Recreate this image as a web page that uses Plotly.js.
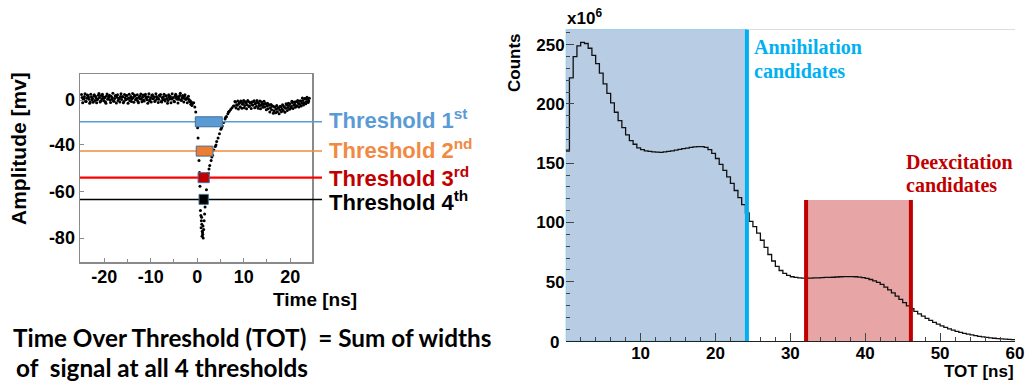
<!DOCTYPE html>
<html>
<head>
<meta charset="utf-8">
<script src="https://cdn.plot.ly/plotly-3.0.1.min.js"></script>
<style>
html,body{margin:0;padding:0;background:#fff;}
#chart{width:1035px;height:385px;}
</style>
</head>
<body>
<div id="chart"></div>
<script>
// ---------- DATA ----------
// Left panel: digitised detector signal (time in ns, amplitude in mV)
const sigBaseT = [
-24.75,-24.5,-24.25,-24.0,-23.75,-23.5,-23.25,-23.0,
-22.75,-22.5,-22.25,-22.0,-21.75,-21.5,-21.25,-21.0,
-20.75,-20.5,-20.25,-20.0,-19.75,-19.5,-19.25,-19.0,
-18.75,-18.5,-18.25,-18.0,-17.75,-17.5,-17.25,-17.0,
-16.75,-16.5,-16.25,-16.0,-15.75,-15.5,-15.25,-15.0,
-14.75,-14.5,-14.25,-14.0,-13.75,-13.5,-13.25,-13.0,
-12.75,-12.5,-12.25,-12.0,-11.75,-11.5,-11.25,-11.0,
-10.75,-10.5,-10.25,-10.0,-9.75,-9.5,-9.25,-9.0,
-8.75,-8.5,-8.25,-8.0,-7.75,-7.5,-7.25,-7.0,
-6.75,-6.5,-6.25,-6.0,-5.75,-5.5,-5.25,-5.0,
-4.75,-4.5,-4.25,-4.0,-3.75,-3.5,-3.25,-3.0,
-2.75,-2.5,-2.25,-2.0,-1.75,-1.5,-1.25,-1.0];
const sigBaseV = [
1.5,0.2,2.1,-0.8,1.0,2.6,0.4,-1.2,
1.8,0.9,2.3,-0.3,1.2,0.1,2.8,1.5,
-0.6,0.7,2.0,1.1,-1.0,2.4,0.5,1.7,
0.0,2.2,1.3,-0.5,0.9,2.7,1.6,-0.2,
1.0,2.1,0.3,1.9,-0.9,1.4,2.5,0.6,
1.2,-0.4,2.0,0.8,1.5,2.9,0.1,1.1,
-0.7,1.8,2.3,0.4,1.6,-0.1,2.4,1.0,
0.2,1.9,-0.6,1.3,2.6,0.7,1.5,-0.3,
2.0,1.2,0.5,2.2,-0.8,1.4,1.9,0.3,
2.5,0.9,-0.2,1.7,2.1,0.6,1.3,-0.5,
2.3,1.0,0.4,1.8,2.6,0.0,1.5,1.1,
2.0,0.5,1.2,0.8,0.3,-0.4,-1.2,-2.0];
const sigBase2T = [
-24.875,-24.625,-24.375,-24.125,-23.875,-23.625,-23.375,-23.125,
-22.875,-22.625,-22.375,-22.125,-21.875,-21.625,-21.375,-21.125,
-20.875,-20.625,-20.375,-20.125,-19.875,-19.625,-19.375,-19.125,
-18.875,-18.625,-18.375,-18.125,-17.875,-17.625,-17.375,-17.125,
-16.875,-16.625,-16.375,-16.125,-15.875,-15.625,-15.375,-15.125,
-14.875,-14.625,-14.375,-14.125,-13.875,-13.625,-13.375,-13.125,
-12.875,-12.625,-12.375,-12.125,-11.875,-11.625,-11.375,-11.125,
-10.875,-10.625,-10.375,-10.125,-9.875,-9.625,-9.375,-9.125,
-8.875,-8.625,-8.375,-8.125,-7.875,-7.625,-7.375,-7.125,
-6.875,-6.625,-6.375,-6.125,-5.875,-5.625,-5.375,-5.125,
-4.875,-4.625,-4.375,-4.125,-3.875,-3.625,-3.375,-3.125,
-2.875,-2.625,-2.375,-2.125,-1.875,-1.625,-1.375,-1.125];
const sigBase2V = [
3.2,-1.5,0.8,3.6,-0.9,2.9,1.8,-1.8,
3.4,0.2,-1.3,3.0,2.2,-1.6,0.6,3.8,
-1.1,2.7,3.3,-0.4,1.6,-1.9,3.5,0.9,
2.8,-1.4,0.4,3.9,-0.7,2.5,-1.7,3.1,
0.7,-1.2,3.7,1.9,-1.5,3.2,0.1,2.6,
-1.8,3.4,1.0,-0.9,3.8,-1.3,2.3,0.5,
3.0,-1.6,0.9,3.5,-1.0,2.9,-0.5,3.3,
1.7,-1.9,3.6,0.3,-1.2,3.1,2.0,-0.8,
3.7,0.6,-1.4,2.8,3.2,-1.1,0.2,3.4,
-0.6,2.4,-1.8,3.0,0.8,-1.5,3.6,1.3,
-1.0,3.3,2.1,-1.7,0.5,3.9,-0.3,2.7,
-1.2,3.0,0.4,-1.6,2.2,-0.9,-2.5,-3.2];
const sigPulseT = [-0.75,-0.5,-0.3,-0.1,0.1,0.2,0.3,0.4,0.5,0.6,0.65,0.7,0.8,0.9,1.0,0.85,1.1,1.2,1.3,1.15,
  1.4,1.5,1.6,1.7,1.8,2.0,2.2,2.4,2.7,3.0,3.3,3.6,3.9,4.2,4.5,4.8,5.1,5.4,5.7,6.0,6.3,6.6,6.9,7.2,7.5,7.8,
  0.95,1.05,1.25,2.55,3.15,4.05,5.25,6.15,6.75];
const sigPulseV = [-1.5,-4,-7,-11,-16,-22,-28,-35,-42,-50,-58,-64,-67,-70,-72,-74,-76,-78,-80,-77,
  -75,-70,-66,-62,-57,-52,-47,-42.5,-38,-35,-32,-29,-27,-24,-22,-19.5,-17,-15,-13,-11,-9.5,-8,-6.5,-5.5,-4.5,-3.5,
  -68,-79,-73,-40,-33,-26,-16,-10,-7];
const sigTailT = [
8.0,8.25,8.5,8.75,9.0,9.25,9.5,9.75,
10.0,10.25,10.5,10.75,11.0,11.25,11.5,11.75,
12.0,12.25,12.5,12.75,13.0,13.25,13.5,13.75,
14.0,14.25,14.5,14.75,15.0,15.25,15.5,15.75,
16.0,16.25,16.5,16.75,17.0,17.25,17.5,17.75,
18.0,18.25,18.5,18.75,19.0,19.25,19.5,19.75,
20.0,20.25,20.5,20.75,21.0,21.25,21.5,21.75,
22.0,22.25,22.5,22.75,23.0,23.25,23.5,23.75,24.0];
const sigTailV = [
-3.5,-1.2,-2.8,-0.5,-2.0,-3.9,-1.0,-2.5,
-0.2,-3.1,-1.6,-2.7,-0.8,-3.5,-1.9,-1.1,
-2.9,-0.4,-2.2,-3.6,-1.3,-2.0,-0.6,-3.0,
-1.8,-2.6,-4.0,-2.3,-3.4,-5.0,-2.8,-4.4,
-5.6,-3.5,-6.2,-4.1,-5.3,-6.8,-4.6,-5.8,
-3.9,-5.2,-6.0,-4.0,-4.8,-2.9,-4.3,-3.1,
-2.2,-3.8,-1.4,-3.0,-2.5,-1.0,-3.3,-1.7,
-2.4,-0.6,-1.9,-0.2,-1.5,0.8,-0.9,0.4,-0.5];
const sigTail2T = [
8.125,8.375,8.625,8.875,9.125,9.375,9.625,9.875,
10.125,10.375,10.625,10.875,11.125,11.375,11.625,11.875,
12.125,12.375,12.625,12.875,13.125,13.375,13.625,13.875,
14.125,14.375,14.625,14.875,15.125,15.375,15.625,15.875,
16.125,16.375,16.625,16.875,17.125,17.375,17.625,17.875,
18.125,18.375,18.625,18.875,19.125,19.375,19.625,19.875,
20.125,20.375,20.625,20.875,21.125,21.375,21.625,21.875,
22.125,22.375,22.625,22.875,23.125,23.375,23.625,23.875,24.125];
const sigTail2V = [
-0.8,-4.6,-3.0,-5.2,-1.5,-0.6,-4.8,-1.9,
-4.4,-1.0,-5.0,-0.3,-3.8,-1.4,-4.9,-2.9,
-0.9,-4.5,-1.6,-0.2,-4.7,-3.3,-5.1,-1.2,
-4.2,-0.7,-2.0,-5.6,-1.9,-3.0,-6.9,-2.6,
-3.4,-7.6,-4.0,-7.3,-3.1,-4.4,-7.9,-3.6,
-6.8,-2.8,-3.7,-7.1,-2.2,-6.0,-1.8,-5.4,
-4.6,-0.7,-4.9,-1.2,-4.2,-3.6,-0.3,-4.1,
-0.5,-3.5,1.2,-2.9,0.9,-2.2,1.6,-1.4,1.0];

// Threshold levels (mV) and time-over-threshold windows (ns)
const thrNames  = ['1', '2', '3', '4'];
const thrSuffix = ['st', 'nd', 'rd', 'th'];
const thrLevel  = [-12.6, -29.6, -45.0, -57.6];
const totStart  = [-0.4, -0.2, 0.2, 0.4];
const totEnd    = [5.4, 3.4, 2.6, 2.4];
const ampTickVals = [0, -26, -53.3, -80];
const ampTickText = ['0', '-40', '-60', '-80'];
const timeTicks = [-20, -10, 0, 10, 20];

// Right panel: TOT histogram (x10^6 counts), 0.5 ns bins from 0 to 60 ns
const totBinStart = 0;
const totBinWidth = 0.5;
const totCounts = [
161,222,240,249,252,251,247,241,234,226,
217,209,201,193,186,180,174,169,166,163,
161.5,160.5,160,159.5,159.3,159.2,159.5,160,160.5,161,
161.7,162.3,162.8,163.3,163.8,164,164,163.4,161.5,158.3,
154,149,144,138.5,133,127,121,115,108,101,
96.5,91,85,79,73,67.5,63,59.5,57,55.3,
54.2,53.6,53.2,53,53,53.1,53.2,53.3,53.5,53.6,
53.7,53.8,54,54.2,54.3,54.4,54.3,54.2,53.9,53.4,
52.8,51.9,50.8,49.4,47.7,45.5,43.2,40.6,37.9,35.2,
32.4,29.7,27.2,25,22.9,21,19.1,17.4,15.7,14.2,
12.8,11.5,10.3,9.2,8.2,7.3,6.5,5.8,5.1,4.5,
3.9,3.4,3,2.6,2.3,2,1.8,1.5,1.3,1.1];
const annihilationCut = 24.2;              // ns
const deexcitationWindow = [32.1, 46.1];   // ns
const deexcitationTop = 119;               // x10^6
const totTickVals = [0, 10, 20, 30, 40, 50, 60];
const totTickText = ['', '10', '20', '30', '40', '50', '60'];
const countTickVals = [50, 100, 150, 200, 250];
const originLabel = '0';

// ---------- BUILD ----------
const W = 1035, H = 385;
const px = v => v / W;
const py = v => 1 - v / H;

const sigT = sigBaseT.concat(sigBase2T, sigPulseT, sigTailT, sigTail2T);
const sigV = sigBaseV.concat(sigBase2V, sigPulseV, sigTailV, sigTail2V);

const edges = totCounts.map((_, i) => totBinStart + i * totBinWidth);
const histX = edges.concat([totBinStart + totCounts.length * totBinWidth]);
const histY = totCounts.concat([totCounts[totCounts.length - 1]]);

const thrLineColor = ['#5B9BD5', '#F08A42', '#FF0000', '#000000'];
const thrLineWidth = [1.5, 1.5, 2.2, 1.5];
const boxFill = ['#5B9BD5', '#ED7D31', '#C00000', '#000000'];
const thrTextColor = ['#5B9BD5', '#F08A42', '#C00000', '#000000'];
const thrTextY = [119, 149, 177, 201];

const SANS = 'Liberation Sans, Arial, sans-serif';
const SERIF = 'Liberation Serif, Times New Roman, serif';

const traces = [
  {
    type: 'scatter', mode: 'markers', x: sigT, y: sigV,
    xaxis: 'x', yaxis: 'y',
    marker: {color: '#000', size: 3},
    hoverinfo: 'skip', showlegend: false
  },
  {
    type: 'scatter', mode: 'lines', x: histX, y: histY,
    xaxis: 'x2', yaxis: 'y2',
    line: {color: '#111', width: 1.3, shape: 'hv'},
    hoverinfo: 'skip', showlegend: false
  }
];

const shapes = [];
thrLevel.forEach((lv, i) => {
  shapes.push({type: 'line', xref: 'paper', yref: 'y', x0: px(80), x1: px(322), y0: lv, y1: lv,
    line: {color: thrLineColor[i], width: thrLineWidth[i]}, layer: 'above'});
});
thrLevel.forEach((lv, i) => {
  shapes.push({type: 'rect', xref: 'x', yref: 'y', x0: totStart[i], x1: totEnd[i], y0: lv - 2.9, y1: lv + 2.9,
    fillcolor: boxFill[i], line: {color: '#41719C', width: 1}, layer: 'above'});
});
shapes.push({type: 'rect', xref: 'x2', yref: 'y2', x0: 0, x1: annihilationCut, y0: 0, y1: 263,
  fillcolor: '#B8CCE4', line: {color: '#86CFEC', width: 1.5}, layer: 'below'});
shapes.push({type: 'line', xref: 'x2', yref: 'y2', x0: annihilationCut, x1: annihilationCut, y0: 0, y1: 263,
  line: {color: '#00B0F0', width: 4}, layer: 'above'});
shapes.push({type: 'line', xref: 'x2', yref: 'y2', x0: annihilationCut, x1: 60, y0: 263, y1: 263,
  line: {color: '#c8c8c8', width: 1}, layer: 'above'});
shapes.push({type: 'rect', xref: 'x2', yref: 'y2', x0: deexcitationWindow[0], x1: deexcitationWindow[1], y0: 0, y1: deexcitationTop,
  fillcolor: '#E7A5A5', line: {width: 0}, layer: 'below'});
deexcitationWindow.forEach(xv => {
  shapes.push({type: 'line', xref: 'x2', yref: 'y2', x0: xv, x1: xv, y0: 0, y1: deexcitationTop,
    line: {color: '#C00000', width: 4}, layer: 'above'});
});

const ann = [];
const A = (text, x, y, opts) => Object.assign({text, x: px(x), y: py(y), xref: 'paper', yref: 'paper',
  showarrow: false, xanchor: 'left', yanchor: 'middle'}, opts);

thrNames.forEach((n, i) => {
  ann.push(A('Threshold ' + n + '<sup>' + thrSuffix[i] + '</sup>', 327, thrTextY[i],
    {font: {family: SANS, size: 22, weight: 'bold', color: thrTextColor[i]}}));
});
ann.push(A('Amplitude [mv]', 18, 149, {xanchor: 'center', textangle: -90,
  font: {family: SANS, size: 21, weight: 'bold', color: '#000'}}));
ann.push(A('Time [ns]', 315, 299, {xanchor: 'center',
  font: {family: SANS, size: 19, weight: 'bold', color: '#000'}}));
ann.push(A('Time Over Threshold (TOT)\u00a0 = Sum of widths', 11, 337,
  {font: {family: 'Lato, sans-serif', size: 24.3, weight: 'bold', color: '#000'}}));
ann.push(A('of\u00a0 signal at all 4 thresholds', 14, 367,
  {font: {family: 'Lato, sans-serif', size: 24.3, weight: 'bold', color: '#000'}}));
ann.push(A('x10<sup>6</sup>', 565, 17,
  {font: {family: SANS, size: 17, weight: 'bold', color: '#000'}}));
ann.push(A('Counts', 515, 63, {xanchor: 'center', textangle: -90,
  font: {family: SANS, size: 17, weight: 'bold', color: '#000'}}));
ann.push(A(originLabel, 561, 342, {xanchor: 'right',
  font: {family: SANS, size: 17, weight: 'bold', color: '#000'}}));
ann.push(A('TOT [ns]', 1016, 371, {xanchor: 'right',
  font: {family: SANS, size: 17, weight: 'bold', color: '#000'}}));
ann.push(A('Annihilation', 752, 47, {font: {family: SERIF, size: 20, weight: 'bold', color: '#00B0F0'}}));
ann.push(A('candidates', 752, 71, {font: {family: SERIF, size: 20, weight: 'bold', color: '#00B0F0'}}));
ann.push(A('Deexcitation', 904, 162, {font: {family: SERIF, size: 20, weight: 'bold', color: '#C00000'}}));
ann.push(A('candidates', 904, 185, {font: {family: SERIF, size: 20, weight: 'bold', color: '#C00000'}}));

const tickFontL = {family: SANS, size: 18, weight: 'bold', color: '#000'};
const tickFontR = {family: SANS, size: 17, weight: 'bold', color: '#000'};

const layout = {
  width: W, height: H,
  margin: {l: 0, r: 0, t: 0, b: 0},
  paper_bgcolor: '#fff', plot_bgcolor: 'rgba(0,0,0,0)',
  showlegend: false,
  xaxis: {
    domain: [px(80), px(312)], range: [-25.2, 24.7], anchor: 'y',
    showline: true, linecolor: '#8a8a8a', linewidth: 1.5, mirror: true,
    ticks: 'inside', ticklen: 4, tickcolor: '#8a8a8a', ticklabelstandoff: -2,
    tickvals: timeTicks, ticktext: timeTicks.map(String), tickfont: tickFontL,
    minor: {ticks: 'inside', dtick: 5, ticklen: 3, tickcolor: '#8a8a8a', showgrid: false},
    showgrid: false, zeroline: false, fixedrange: true
  },
  yaxis: {
    domain: [py(262), py(74)], range: [-93.9, 15.1], anchor: 'x',
    showline: true, linecolor: '#8a8a8a', linewidth: 1.5, mirror: true,
    ticks: 'inside', ticklen: 4, tickcolor: '#8a8a8a',
    tickvals: ampTickVals, ticktext: ampTickText, tickfont: tickFontL,
    showgrid: false, zeroline: false, fixedrange: true
  },
  xaxis2: {
    domain: [px(565.7), px(1015)], range: [0, 60], anchor: 'y2',
    showline: true, linecolor: '#222', linewidth: 1,
    ticks: 'inside', ticklen: 8, tickcolor: '#444', ticklabelstandoff: -3,
    tickvals: totTickVals, ticktext: totTickText, tickfont: tickFontR,
    minor: {ticks: 'inside', dtick: 2, ticklen: 4, tickcolor: '#444', showgrid: false},
    showgrid: false, zeroline: false, fixedrange: true
  },
  yaxis2: {
    domain: [py(341), py(29.3)], range: [0, 263], anchor: 'x2',
    showline: false,
    ticks: 'inside', ticklen: 8, tickcolor: '#444',
    tickvals: countTickVals, ticktext: countTickVals.map(String), tickfont: tickFontR,
    minor: {ticks: 'inside', dtick: 10, ticklen: 4, tickcolor: '#444', showgrid: false},
    showgrid: false, zeroline: false, fixedrange: true
  },
  shapes: shapes,
  annotations: ann
};

Plotly.newPlot('chart', traces, layout, {displayModeBar: false, staticPlot: true});
</script>
</body>
</html>
